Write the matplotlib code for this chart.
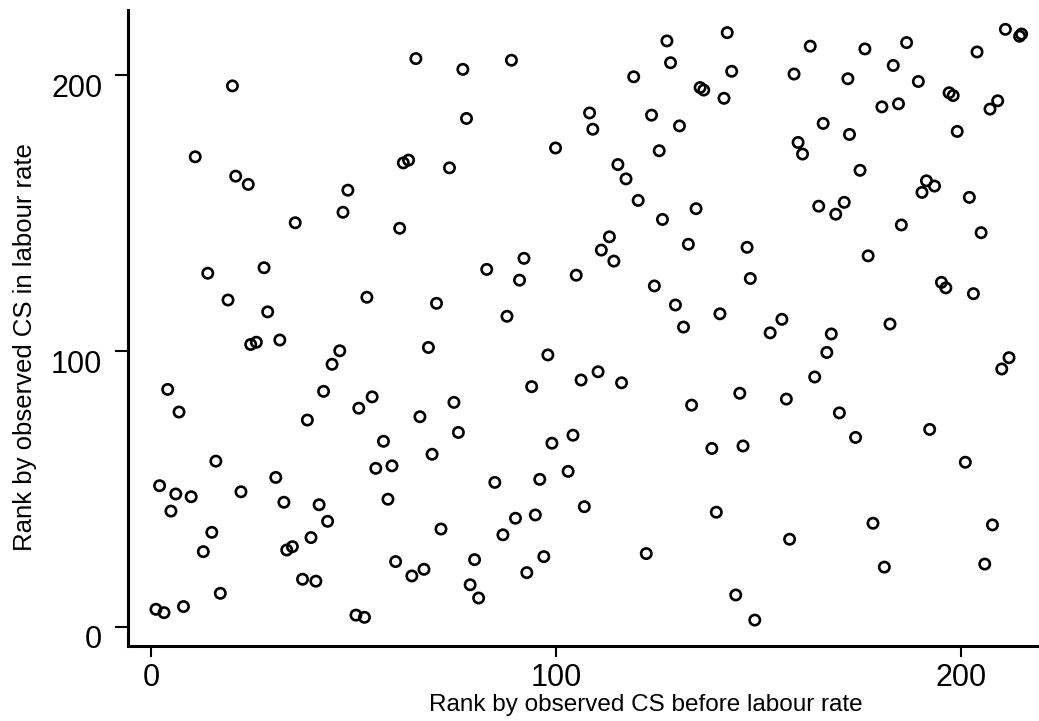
import matplotlib
matplotlib.use("Agg")
import matplotlib.pyplot as plt
from matplotlib.transforms import ScaledTranslation

plt.rcParams['font.family'] = ['Liberation Sans', 'DejaVu Sans']

# rank before labour rate (x) and rank in labour rate (y)
rank_before = [
    1.2, 2.1, 3.2, 4.1, 4.9, 6.1, 6.9, 8.0, 9.9, 10.9, 12.9, 14.0, 15.0, 16.0,
    17.1, 19.0, 20.1, 20.9, 22.2, 24.0, 24.6, 26.0, 27.9, 28.8, 30.8, 31.8,
    32.8, 33.5, 34.9, 35.6, 37.4, 38.6, 39.5, 40.7, 41.5, 42.6, 43.6, 44.7,
    46.6, 47.4, 48.6, 50.6, 51.3, 52.7, 53.3, 54.6, 55.5, 57.4, 58.5, 59.5,
    60.4, 61.4, 62.3, 63.6, 64.4, 65.4, 66.4, 67.4, 68.5, 69.4, 70.5, 71.6,
    73.7, 74.8, 75.9, 77.0, 77.9, 78.8, 79.9, 80.9, 82.9, 84.9, 86.9, 87.9,
    89.0, 90.0, 91.0, 92.1, 92.8, 94.0, 94.9, 96.0, 97.0, 98.0, 99.0, 99.9,
    103.0, 104.2, 105.0, 106.2, 107.0, 108.3, 109.1, 110.4, 111.2, 113.2,
    114.3, 115.3, 116.2, 117.3, 119.2, 120.3, 122.3, 123.6, 124.3, 125.5,
    126.3, 127.4, 128.3, 129.5, 130.5, 131.5, 132.7, 133.5, 134.6, 135.6,
    136.5, 138.5, 139.6, 140.5, 141.5, 142.3, 143.4, 144.4, 145.4, 146.2,
    147.2, 148.0, 149.1, 152.9, 155.8, 156.9, 157.7, 158.8, 159.8, 160.9,
    162.8, 163.9, 164.9, 166.0, 166.9, 168.0, 169.1, 170.0, 171.2, 172.1,
    172.5, 174.0, 175.1, 176.3, 177.1, 178.3, 180.5, 181.1, 182.5, 183.3,
    184.6, 185.3, 186.6, 189.5, 190.4, 191.5, 192.3, 193.5, 195.2, 196.3,
    197.1, 198.1, 199.1, 201.1, 202.1, 203.1, 204.0, 205.0, 205.9, 207.2,
    207.8, 209.1, 210.1, 211.0, 211.9, 214.5, 215.0,
]
rank_labour = [
    6.4, 51.2, 5.2, 86.1, 42.0, 48.2, 77.9, 7.4, 47.2, 170.4, 27.3, 128.2,
    34.3, 60.1, 12.2, 118.5, 196.1, 163.4, 49.0, 160.4, 102.4, 103.2, 130.2,
    114.2, 54.2, 104.0, 45.2, 27.9, 29.1, 146.5, 17.3, 75.0, 32.4, 16.6, 44.3,
    85.4, 38.3, 95.2, 100.1, 150.3, 158.3, 4.3, 79.3, 3.5, 119.5, 83.4, 57.5,
    67.3, 46.3, 58.4, 23.7, 144.5, 168.2, 169.2, 18.5, 206.0, 76.2, 20.9,
    101.3, 62.6, 117.3, 35.5,
    166.4, 81.4, 70.5, 202.1, 184.3, 15.3, 24.4, 10.5, 129.6, 52.4, 33.4,
    112.6, 205.4, 39.4, 125.7, 133.6, 19.7, 87.1, 40.6, 53.5, 25.5, 98.6,
    66.6, 173.6, 56.4, 69.5, 127.5, 89.5, 43.6, 186.3, 180.4, 92.5, 136.6,
    141.4, 132.6, 167.6, 88.5, 162.4, 199.4, 154.6, 26.6, 185.5, 123.6, 172.6,
    147.7, 212.4, 204.5, 116.7, 181.6, 108.7, 138.7, 80.4, 151.6, 195.5,
    194.6, 64.7, 41.6, 113.5, 191.6, 215.4, 201.4, 11.6, 84.7, 65.6,
    137.6, 126.3, 2.5, 106.6, 111.5, 82.6, 31.8, 200.4, 175.6, 171.4, 210.5,
    90.6, 152.5, 182.5, 99.5, 106.2, 149.6, 77.6, 153.9, 198.7, 178.5, 68.7,
    165.5, 209.5, 134.5, 37.6, 188.5, 21.7, 109.8, 203.5, 189.6, 145.7, 211.8,
    197.7, 157.5, 161.7, 71.6, 159.8, 124.9, 122.9, 193.6, 192.6, 179.6, 59.7,
    155.7, 120.8, 208.4, 142.9, 22.8, 187.7, 37.0, 190.7, 93.5, 216.6, 97.6,
    214.1, 214.9,
]
tick_vals = [0, 100, 200]

fig = plt.figure(figsize=(10.39, 7.21), dpi=100)
ax = fig.add_axes([0.1232, 0.104, 0.8768, 0.8821])

ax.scatter(rank_before, rank_labour, s=55, facecolors='none',
           edgecolors='black', linewidths=1.9)

ax.set_xlim(-5.7, 219.3)
ax.set_ylim(-6.9, 223.6)
ax.set_xticks(tick_vals)
ax.set_yticks(tick_vals)

for side in ('top', 'right'):
    ax.spines[side].set_visible(False)
for side in ('left', 'bottom'):
    ax.spines[side].set_linewidth(2.2)

ax.tick_params(axis='x', direction='out', length=8, width=1.5,
               labelsize=22, pad=4)
ax.tick_params(axis='y', direction='out', length=9.5, width=1.5,
               labelsize=22, pad=9)

# y tick labels sit a little below their ticks
shift = ScaledTranslation(0, -10 / 100, fig.dpi_scale_trans)
for tick in ax.yaxis.get_major_ticks():
    tick.label1.set_transform(tick.label1.get_transform() + shift)

ax.set_xlabel("Rank by observed CS before labour rate", fontsize=17.5)
ax.xaxis.label.set_va('center')
ax.xaxis.set_label_coords(0.568, -0.092)

ax.set_ylabel("Rank by observed CS in labour rate", fontsize=18.5)
ax.yaxis.label.set_va('center')
ax.yaxis.set_label_coords(-0.113, 0.47)

fig.savefig("out.png", dpi=100)
